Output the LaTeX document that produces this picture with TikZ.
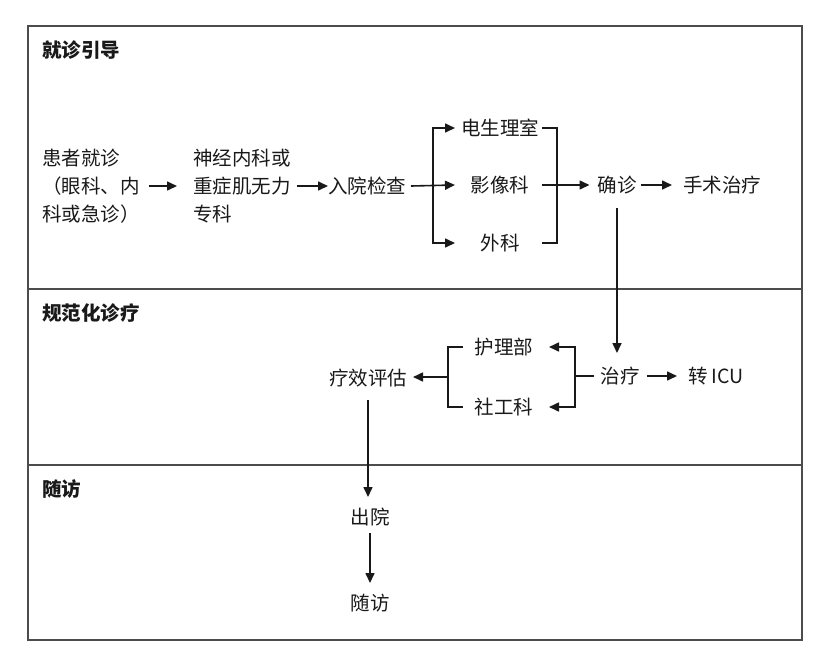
\documentclass[tikz,border=0pt]{standalone}
\usepackage{fontspec}
\setmainfont{Noto Sans CJK SC}
\usetikzlibrary{arrows.meta}
\begin{document}
\begin{tikzpicture}[x=1pt,y=-1pt,
  every node/.style={inner sep=0pt,outer sep=0pt,text=black!90,font=\fontsize{19.5}{28}\selectfont},
  lbl/.style={anchor=center,text height=16pt,text depth=2pt},
  lblw/.style={anchor=west,text height=16pt,text depth=2pt},
  multi/.style={anchor=west,align=left},
  head/.style={anchor=west,text height=16pt,text depth=2pt,font=\fontsize{19.5}{28}\selectfont\bfseries},
  ln/.style={line width=1.6pt,black!90},
  arr/.style={ln,-{Triangle[length=10pt,width=9pt]}},
  barr/.style={ln,{Triangle[length=10pt,width=9pt]}-{Triangle[length=10pt,width=9pt]}},
  frame/.style={line width=1.1pt,black!70}]
\useasboundingbox (0,0) rectangle (830,656);
% frame and dividers
\draw[frame] (28,26) rectangle (802,640);
\draw[frame] (28,289) -- (802,289);
\draw[frame] (28,465) -- (802,465);
% section headings
\node[head] (t1) at (42,50) {就诊引导};
\node[head] (t2) at (42,313) {规范化诊疗};
\node[head] (t3) at (42,489) {随访};
% nodes
\node[multi] (p1) at (42,186) {患者就诊\\（眼科、内\\科或急诊）};
\node[multi] (p2) at (193,186) {神经内科或\\重症肌无力\\专科};
\node[lblw] (p3) at (328,186) {入院检查};
\node[lbl] (e1) at (500,128) {电生理室};
\node[lbl] (e2) at (500,185) {影像科};
\node[lbl] (e3) at (500,243) {外科};
\node[lbl] (d1) at (617,185) {确诊};
\node[lblw] (s1) at (683,185) {手术治疗};
\node[lbl] (z1) at (620,376) {治疗};
\node[lblw] (icu) at (688,376) {转 ICU};
\node[lbl] (h1) at (504,347) {护理部};
\node[lbl] (h2) at (504,407) {社工科};
\node[lbl] (q1) at (368,378) {疗效评估};
\node[lbl] (o1) at (370,517) {出院};
\node[lbl] (f1) at (370,603) {随访};
% helper coordinates
\coordinate (bl) at (433,185);
\coordinate (bt) at (455,185);
\coordinate (rs) at (542,185);
\coordinate (rb) at (557,185);
\coordinate (zb) at (575,376);
\coordinate (zt) at (549,376);
\coordinate (lb) at (448,377);
% connectors
\draw[arr] ([xshift=9pt]p1.east) -- ([xshift=-16pt]p1.east -| p2.west);
\draw[arr] ([xshift=6pt]p2.east) -- (p2.east -| p3.west);
\draw[arr] ([xshift=5pt]p3.east) -- (bt |- e2);
\draw[barr] (bt |- e1) -- (bl |- e1) -- (bl |- e3) -- (bt |- e3);
\draw[ln] (rs |- e1) -- (rb |- e1) -- (rb |- e3) -- (rs |- e3);
\draw[arr] (rs |- e2) -- ([xshift=-8pt]d1.west);
\draw[arr] ([xshift=4pt]d1.east) -- ([xshift=-11pt]s1.west);
\draw[arr] ([yshift=-14pt]d1.south) -- ([yshift=14pt]d1.south |- z1.north);
\draw[arr] ([xshift=7pt]z1.east) -- ([xshift=-11pt]icu.west);
\draw[ln] ([xshift=-7pt]z1.west) -- (zb |- z1);
\draw[barr] (zt |- h1) -- (zb |- h1) -- (zb |- h2) -- (zt |- h2);
\draw[ln] ([xshift=-12pt]h1.west) -- (lb |- h1) -- (lb |- h2) -- ([xshift=-12pt]h2.west);
\draw[arr] (lb) -- ([xshift=6pt]lb -| q1.east);
\draw[arr] ([yshift=-13pt]q1.south) -- ([yshift=11pt]q1.south |- o1.north);
\draw[arr] ([yshift=-7pt]o1.south) -- ([yshift=11pt]o1.south |- f1.north);
\end{tikzpicture}
\end{document}
